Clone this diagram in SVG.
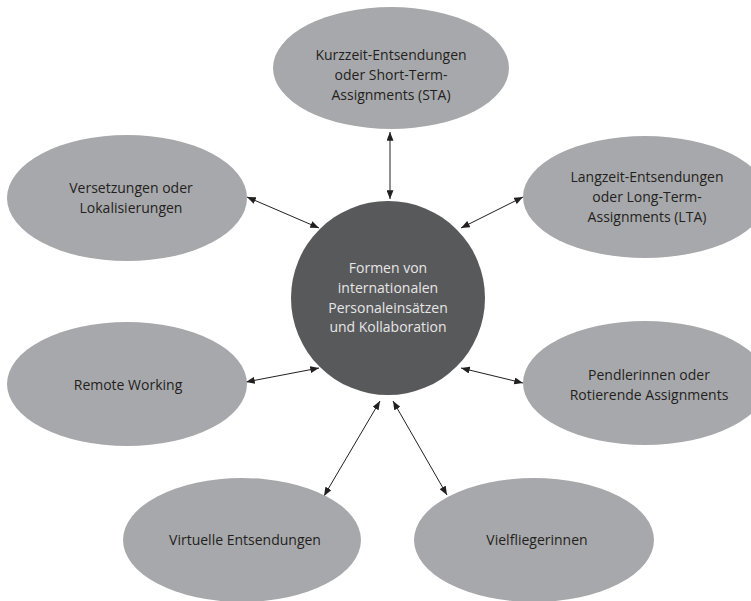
<svg xmlns="http://www.w3.org/2000/svg" width="751" height="601" viewBox="0 0 751 601">
<defs>
<style>
.el{fill:#a7a8ab}
.hub{fill:#58595b}
.t{font-family:"Open Sans","Liberation Sans",sans-serif;font-size:14px;fill:#231f20;text-anchor:middle}
.th{font-family:"Open Sans","Liberation Sans",sans-serif;font-size:14px;fill:#e6e6e6;text-anchor:middle}
.c{stroke:#231f20;stroke-width:1;fill:none;marker-start:url(#a);marker-end:url(#a)}
</style>
<marker id="a" viewBox="0 0 10 8" refX="10" refY="4" markerWidth="9" markerHeight="7" markerUnits="userSpaceOnUse" orient="auto-start-reverse">
<path d="M0,0 L10,4 L0,8 Z" fill="#231f20"/>
</marker>
</defs>
<g id="connectors">
<line class="c" x1="390" y1="132" x2="390" y2="199"/>
<line class="c" x1="247" y1="197" x2="319" y2="228"/>
<line class="c" x1="523" y1="197" x2="461" y2="228"/>
<line class="c" x1="246" y1="382" x2="319" y2="368"/>
<line class="c" x1="461" y1="368" x2="523" y2="383"/>
<line class="c" x1="380" y1="401" x2="324" y2="496"/>
<line class="c" x1="393" y1="401" x2="447" y2="495"/>
</g>
<g id="n-kurzzeit">
<ellipse class="el" cx="391" cy="68" rx="118" ry="61"/>
<text class="t" x="391" y="60">Kurzzeit-Entsendungen</text>
<text class="t" x="391" y="80">oder Short-Term-</text>
<text class="t" x="391" y="100">Assignments (STA)</text>
</g>
<g id="n-versetzungen">
<ellipse class="el" cx="127" cy="198" rx="120" ry="63"/>
<text class="t" x="131" y="193">Versetzungen oder</text>
<text class="t" x="131" y="213">Lokalisierungen</text>
</g>
<g id="n-langzeit">
<ellipse class="el" cx="645" cy="197" rx="122" ry="61"/>
<text class="t" x="647" y="182">Langzeit-Entsendungen</text>
<text class="t" x="647" y="202">oder Long-Term-</text>
<text class="t" x="647" y="222">Assignments (LTA)</text>
</g>
<g id="n-hub">
<circle class="hub" cx="388" cy="298" r="97"/>
<text class="th" x="388" y="273">Formen von</text>
<text class="th" x="388" y="293">internationalen</text>
<text class="th" x="388" y="313">Personaleinsätzen</text>
<text class="th" x="388" y="332">und Kollaboration</text>
</g>
<g id="n-remote">
<ellipse class="el" cx="127" cy="384" rx="120" ry="62"/>
<text class="t" x="128" y="390">Remote Working</text>
</g>
<g id="n-pendler">
<ellipse class="el" cx="645" cy="383" rx="122" ry="62"/>
<text class="t" x="649" y="380">Pendlerinnen oder</text>
<text class="t" x="649" y="400">Rotierende Assignments</text>
</g>
<g id="n-virtuelle">
<ellipse class="el" cx="242" cy="540" rx="119" ry="62"/>
<text class="t" x="245" y="545">Virtuelle Entsendungen</text>
</g>
<g id="n-viel">
<ellipse class="el" cx="534" cy="540" rx="120" ry="62"/>
<text class="t" x="537" y="545">Vielfliegerinnen</text>
</g>
</svg>
